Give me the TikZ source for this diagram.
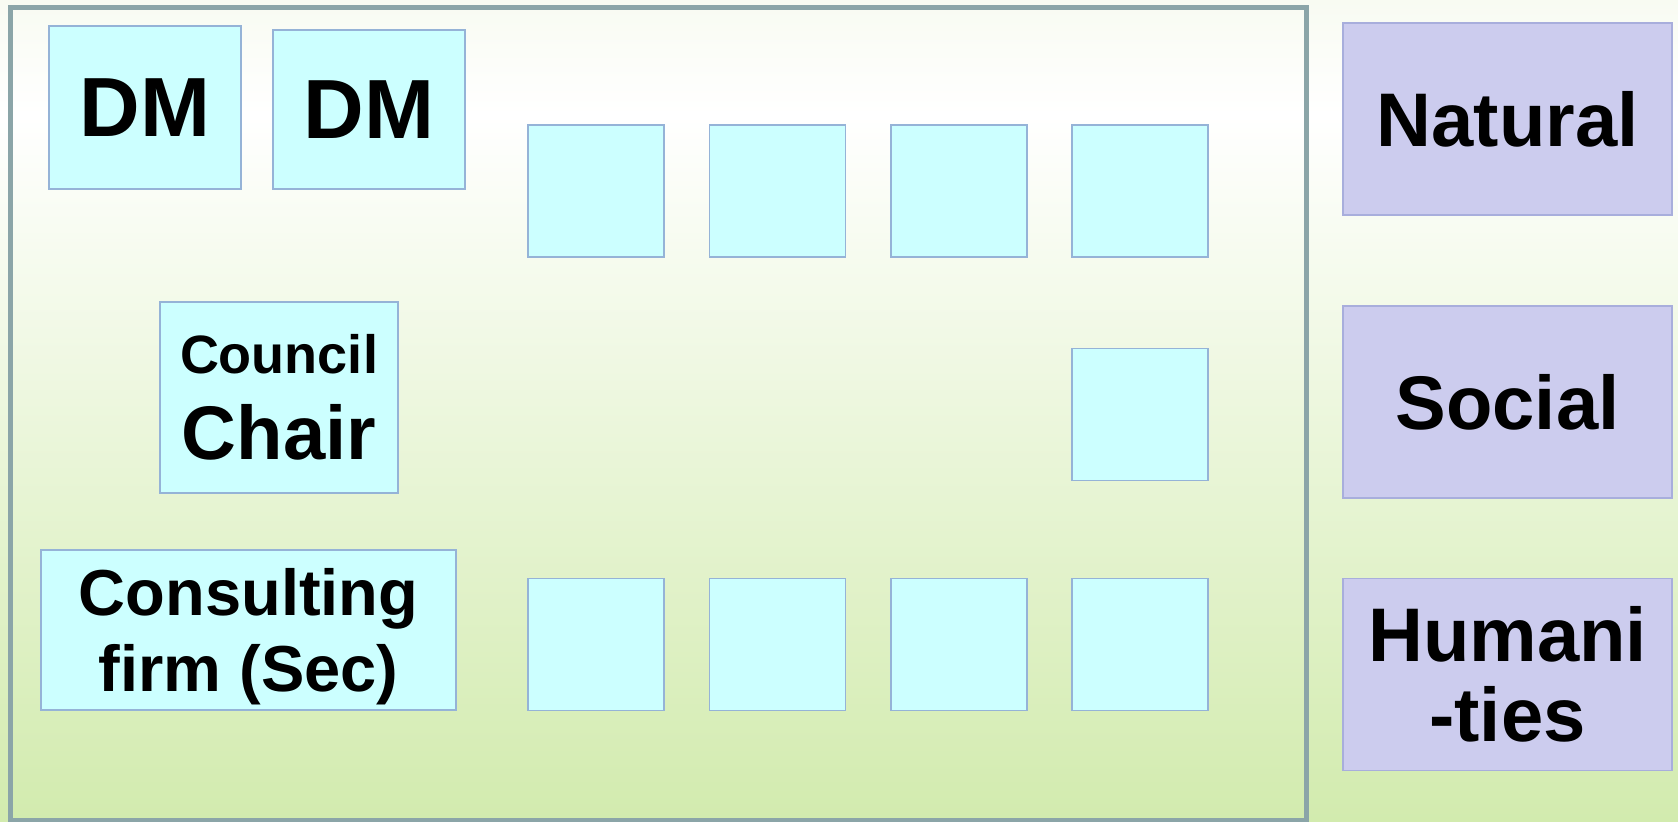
\documentclass[tikz,border=0pt]{standalone}
\usepackage{fontspec}
\setmainfont{Liberation Sans}
\definecolor{bgtop}{HTML}{F8FBF2}
\definecolor{bgbot}{HTML}{D2EBAE}
\definecolor{framecol}{HTML}{8BA5A8}
\definecolor{cboxfill}{HTML}{CCFFFF}
\definecolor{cboxline}{HTML}{95B3D7}
\definecolor{dboxfill}{HTML}{CCCCEE}
\definecolor{dboxline}{HTML}{A8AEDC}
\pgfdeclareverticalshading{bgshade}{100bp}{color(0bp)=(bgbot); color(25bp)=(bgbot); color(68bp)=(white); color(75bp)=(bgtop); color(100bp)=(bgtop)}
\begin{document}
\begin{tikzpicture}[x=0.5pt,y=-0.5pt,
  cbox/.style={draw=cboxline, fill=cboxfill, line width=0.75pt, inner sep=0pt, align=center},
  emptybox/.style={cbox, minimum width=68pt, minimum height=66pt},
  dbox/.style={draw=dboxline, fill=dboxfill, line width=0.75pt, inner sep=0pt, align=center,
    minimum width=164.5pt, minimum height=96pt,
    font=\fontsize{38}{40}\selectfont\bfseries},
  dmfont/.style={font=\fontsize{42}{50}\selectfont\bfseries}
]
\path[use as bounding box, shading=bgshade] (0,0) rectangle (1678,821);
\draw[framecol, line width=2.5pt] (10,7.5) rectangle (1306,820);

% left labelled boxes
\node[cbox, dmfont, minimum width=96pt, minimum height=81.5pt] (dm1) at (145,107.5) {DM};
\node[cbox, dmfont, minimum width=96pt, minimum height=79.5pt] (dm2) at (369,109.5) {DM};
\node[cbox, minimum width=119pt, minimum height=95.5pt, font=\fontsize{38}{43}\selectfont\bfseries] (chair) at (279,397.5)
  {{\fontsize{27}{43}\selectfont Council}\\Chair};
\node[cbox, minimum width=207.5pt, minimum height=80pt, font=\fontsize{32.5}{38}\selectfont\bfseries] (sec) at (248.5,630)
  {\rule{0pt}{30.7pt}Consulting\\firm (Sec)};

% empty boxes
\node[emptybox] (t1) at (596,191) {};
\node[emptybox] (t2) at (777.5,191) {};
\node[emptybox] (t3) at (959,191) {};
\node[emptybox] (t4) at (1140,191) {};
\node[emptybox] (m4) at (1140,414.5) {};
\node[emptybox] (b1) at (596,644.5) {};
\node[emptybox] (b2) at (777.5,644.5) {};
\node[emptybox] (b3) at (959,644.5) {};
\node[emptybox] (b4) at (1140,644.5) {};

% right boxes
\node[dbox] (nat) at (1507.5,119) {Natural};
\node[dbox] (soc) at (1507.5,402) {Social};
\node[dbox] (hum) at (1507.5,674.5) {Humani\\-ties};
\end{tikzpicture}
\end{document}
